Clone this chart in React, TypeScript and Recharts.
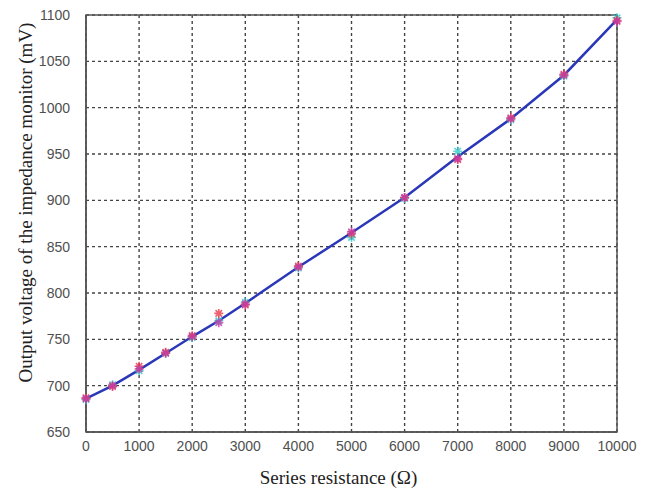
import React from "react";
import {
  ComposedChart,
  Line,
  Scatter,
  XAxis,
  YAxis,
  CartesianGrid,
  ReferenceArea,
  Label,
} from "recharts";

const resistance = [0, 500, 1000, 1500, 2000, 2500, 3000, 4000, 5000, 6000, 7000, 8000, 9000, 10000];
const fitVoltage = [686, 700, 717, 735, 753, 770, 789, 828, 865, 903, 947, 988, 1035, 1095];
const trialA = [686, 700, 718, 735, 753, 768, 788, 828, 866, 903, 945, 988, 1035, 1093];
const trialB = [685, 701, 716, 735, 752, 770, 790, 827, 860, 902, 953, 987, 1034, 1097];
const trialC = [687, 699, 721, 736, 754, 778, 787, 829, 864, 903, 944, 989, 1036, 1094];

const xTicks = [0, 1000, 2000, 3000, 4000, 5000, 6000, 7000, 8000, 9000, 10000];
const yTicks = [650, 700, 750, 800, 850, 900, 950, 1000, 1050, 1100];

const rows = resistance.map((r, i) => ({
  r,
  fit: fitVoltage[i],
  a: trialA[i],
  b: trialB[i],
  c: trialC[i],
}));

const starShape = (color: string) => (props: any) => {
  const { cx, cy } = props;
  if (cx == null || cy == null) return <g />;
  const r = 4.5;
  const d = 3.2;
  const path = `M${cx - r},${cy}L${cx + r},${cy}M${cx},${cy - r}L${cx},${cy + r}M${cx - d},${cy - d}L${cx + d},${cy + d}M${cx - d},${cy + d}L${cx + d},${cy - d}`;
  return <path d={path} stroke={color} strokeWidth={1.6} fill="none" opacity={0.8} />;
};

const tickStyle = { fontFamily: "Liberation Sans, Arial, sans-serif", fontSize: 14, fill: "#4f4f4f" };
const titleFont = "Liberation Serif, Times New Roman, serif";

export default function App() {
  return (
    <div style={{ position: "absolute", left: 0, top: 0, background: "#fff" }}>
      <ComposedChart
        width={650}
        height={491}
        data={rows}
        margin={{ top: 15, right: 33, bottom: 29, left: 8 }}
      >
        <CartesianGrid
          stroke="#444"
          strokeDasharray="3 3"
          strokeWidth={1.4}
          horizontalValues={yTicks}
          verticalValues={xTicks}
        />
        <XAxis
          dataKey="r"
          type="number"
          domain={[0, 10000]}
          ticks={xTicks}
          interval={0}
          height={30}
          tickLine={false}
          tickMargin={3}
          axisLine={{ stroke: "#555", strokeWidth: 1.5 }}
          tick={tickStyle}
        >
          <Label
            content={(p: any) => {
              const vb = p.viewBox;
              return (
                <text
                  x={vb.x + vb.width / 2 - 13}
                  y={vb.y + 52}
                  textAnchor="middle"
                  fontFamily={titleFont}
                  fontSize={19}
                  fill="#222"
                >
                  Series resistance (Ω)
                </text>
              );
            }}
          />
        </XAxis>
        <YAxis
          type="number"
          domain={[650, 1100]}
          ticks={yTicks}
          interval={0}
          width={78}
          tickLine={false}
          tickMargin={10}
          axisLine={{ stroke: "#555", strokeWidth: 1.5 }}
          tick={tickStyle}
        >
          <Label
            content={(p: any) => {
              const vb = p.viewBox;
              const x = vb.x + 17;
              const y = vb.y + vb.height / 2 - 21;
              return (
                <text
                  x={x}
                  y={y}
                  transform={`rotate(-90, ${x}, ${y})`}
                  textAnchor="middle"
                  dominantBaseline="central"
                  fontFamily={titleFont}
                  fontSize={19}
                  fill="#222"
                >
                  Output voltage of the impedance monitor (mV)
                </text>
              );
            }}
          />
        </YAxis>
        <ReferenceArea
          x1={0}
          x2={10000}
          y1={650}
          y2={1100}
          fill="none"
          stroke="#555"
          strokeWidth={1.5}
          ifOverflow="visible"
        />
        <Scatter dataKey="b" shape={starShape("#36c8c8")} isAnimationActive={false} />
        <Scatter dataKey="c" shape={starShape("#e8384a")} isAnimationActive={false} />
        <Scatter dataKey="a" shape={starShape("#c43aa8")} isAnimationActive={false} />
        <Line
          dataKey="fit"
          type="linear"
          stroke="#2a38b8"
          strokeWidth={2.5}
          dot={false}
          isAnimationActive={false}
        />
      </ComposedChart>
    </div>
  );
}
